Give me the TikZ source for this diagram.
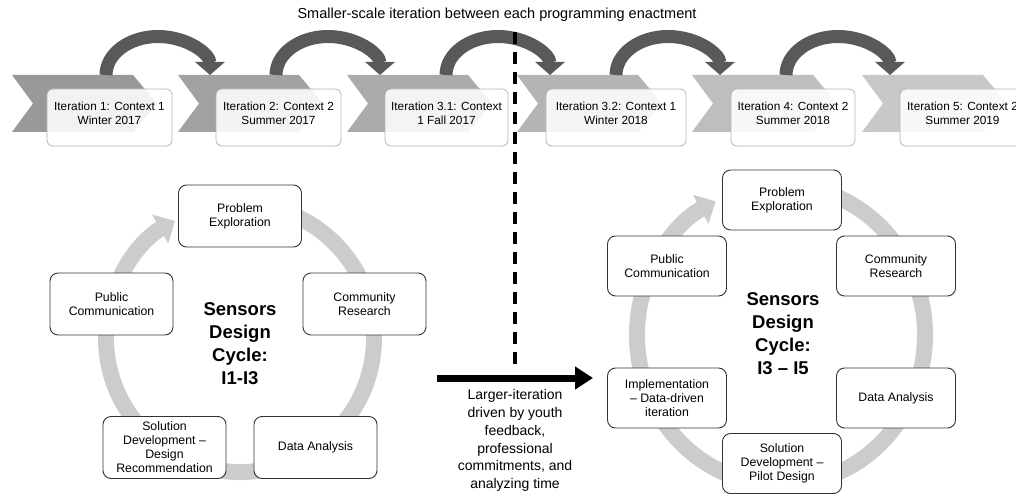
\documentclass[tikz,border=0pt]{standalone}
\usepackage{fontspec}
\setmainfont{Liberation Sans}
\usetikzlibrary{arrows.meta}
\definecolor{arcgray}{HTML}{595959}
\definecolor{ringgray}{HTML}{CCCCCC}
\definecolor{tboxborder}{HTML}{B5B5B5}
\definecolor{cboxborder}{HTML}{333333}
\definecolor{chA}{HTML}{999999}
\definecolor{chB}{HTML}{A2A2A2}
\definecolor{chC}{HTML}{ABABAB}
\definecolor{chD}{HTML}{B4B4B4}
\definecolor{chE}{HTML}{BEBEBE}
\definecolor{chF}{HTML}{C8C8C8}
\begin{document}
\begin{tikzpicture}[x=1pt,y=-1pt,
  tbox/.style={draw=tboxborder, line width=0.8pt, rounded corners=6pt, fill=white, fill opacity=0.88, minimum height=57pt, inner sep=0pt},
  ttext/.style={font=\fontsize{11.8}{14}\selectfont, align=center, text=black, inner sep=0pt},
  cbox/.style={draw=cboxborder, line width=0.9pt, rounded corners=8pt, fill=white, align=center, font=\fontsize{12.3}{14}\selectfont, inner sep=0pt},
  lbox/.style={cbox, minimum width=123pt, minimum height=62pt},
  rbox/.style={cbox, minimum width=119pt, minimum height=60pt},
  ring/.style={draw=ringgray, line width=16pt, -{Triangle[width=32pt,length=17pt]}},
  hop/.style={draw=arcgray, line width=13pt, -{Triangle[width=29pt,length=13pt]}},
  ctitle/.style={font=\fontsize{18.5}{23}\selectfont\bfseries, align=center, inner sep=0pt},
  note/.style={align=center, inner sep=0pt},
]
\useasboundingbox (0,0) rectangle (1016,494);

% chevrons
\foreach \x/\c in {12/chA,178/chB,347/chC,517/chD,692/chE,862/chF}{
  \fill[\c] (\x,75) -- ++(121,0) -- ++(24,28.5) -- ++(-24,28.5) -- ++(-121,0) -- ++(21,-28.5) -- cycle;
}

% small-scale iteration arrows
\foreach \k in {0,...,4}{
  \coordinate (hs\k) at (106+170*\k,75);
  \draw[hop] (hs\k) arc[start angle=180, end angle=360, x radius=52, y radius=38.5];
}

% top iteration boxes
\node[tbox, minimum width=125pt] (t1) at (109.5,117.5) {};
\node[tbox, minimum width=125pt] (t2) at (278.5,117.5) {};
\node[tbox, minimum width=123pt] (t3) at (446.5,117.5) {};
\node[tbox, minimum width=140pt] (t4) at (616,117.5) {};
\node[tbox, minimum width=124pt] (t5) at (793,117.5) {};
\node[tbox, minimum width=125pt] (t6) at (962.5,117.5) {};
\node[ttext] (t1l) at (109.5,113) {Iteration 1: Context 1\\Winter 2017};
\node[ttext] (t2l) at (278.5,113) {Iteration 2: Context 2\\Summer 2017};
\node[ttext] (t3l) at (446.5,113) {Iteration 3.1: Context\\1 Fall 2017};
\node[ttext] (t4l) at (616,113) {Iteration 3.2: Context 1\\Winter 2018};
\node[ttext] (t5l) at (793,113) {Iteration 4: Context 2\\Summer 2018};
\node[ttext] (t6l) at (962.5,113) {Iteration 5: Context 2\\Summer 2019};

% title
\node[note, font=\fontsize{14.5}{17}\selectfont] (title) at (497,15) {Smaller-scale iteration between each programming enactment};

% left cycle
\coordinate (lc) at (240,338);
\draw[ring] (lc) ++(-80:134) arc[start angle=-80, end angle=241, radius=134];
\node[lbox] (lpe) at (240,216) {Problem\\Exploration};
\node[lbox] (lcr) at (364.5,304) {Community\\Research};
\node[lbox] (lpc) at (111.5,304) {Public\\Communication};
\node[lbox] (lsd) at (164.5,447.5) {Solution\\Development –\\Design\\Recommendation};
\node[lbox] (lda) at (315.5,447.5) {Data Analysis};
\node[ctitle] (ltitle) at (240,344) {Sensors\\Design\\Cycle:\\I1-I3};

% right cycle
\coordinate (rc) at (781,335);
\draw[ring] (rc) ++(-80:144 and 150) arc[start angle=-80, end angle=243, x radius=144, y radius=150];
\node[rbox] (rpe) at (782,200) {Problem\\Exploration};
\node[rbox] (rcr) at (896,266) {Community\\Research};
\node[rbox] (rpc) at (667,266) {Public\\Communication};
\node[rbox] (rim) at (667,398) {Implementation\\– Data-driven\\iteration};
\node[rbox] (rda) at (896,398) {Data Analysis};
\node[rbox] (rsd) at (782,463.5) {Solution\\Development –\\Pilot Design};
\node[ctitle] (rtitle) at (783,334) {Sensors\\Design\\Cycle:\\I3 – I5};

% divider and larger iteration arrow
\coordinate (dtop) at (515,32);
\coordinate (dbot) at (515,365);
\draw[line width=4.5pt, dash pattern=on 12pt off 8pt] (dtop) -- (dbot);
\coordinate (hstart) at (437,378);
\coordinate (hend) at (593,378);
\draw[line width=7pt, -{Triangle[width=22pt,length=18pt]}] (hstart) -- (hend);
\node[note, font=\fontsize{14}{17.8}\selectfont] (larger) at (515,440.5) {Larger-iteration\\driven by youth\\feedback,\\professional\\commitments, and\\analyzing time};
\end{tikzpicture}
\end{document}
